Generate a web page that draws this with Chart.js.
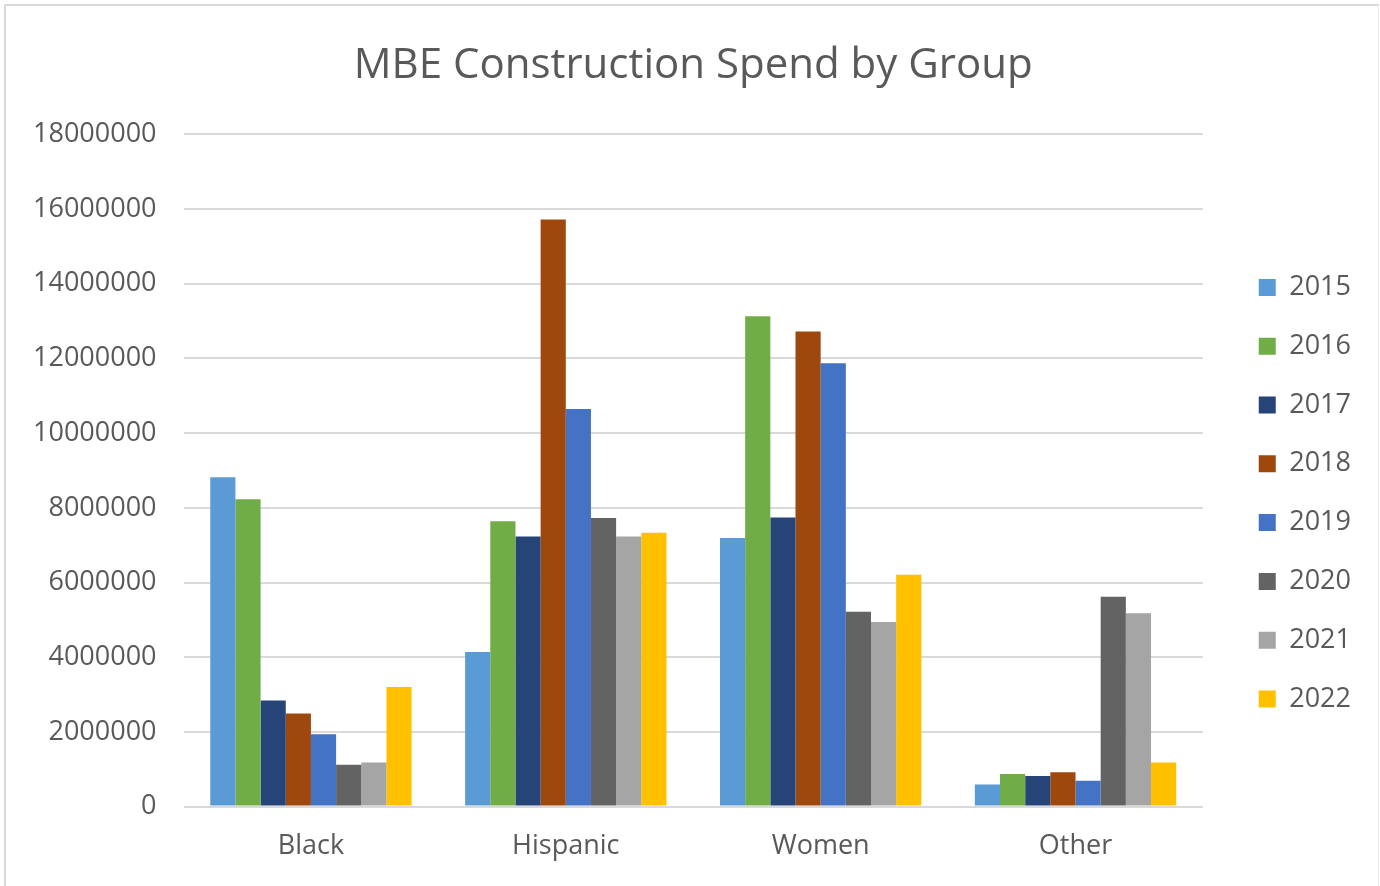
<!DOCTYPE html>
<html>
<head>
<meta charset="utf-8">
<title>MBE Construction Spend by Group</title>
<script src="https://cdn.jsdelivr.net/npm/chart.js@4.4.1/dist/chart.umd.min.js"></script>
<style>
  html, body { margin: 0; padding: 0; background: #fff; }
  #wrap { position: relative; width: 1380px; height: 886px; overflow: hidden; }
  #frame {
    position: absolute; left: 4px; top: 4px; right: 1px; bottom: -4px;
    border-left: 2px solid #d9d9d9; border-top: 2px solid #d9d9d9; border-right: 1px solid #ececec;
  }
  #chart { position: absolute; left: 0; top: 0; }
</style>
</head>
<body>
<div id="wrap">
  <div id="frame"></div>
  <canvas id="chart" width="1380" height="886"></canvas>
</div>
<script>
var groups = ['Black', 'Hispanic', 'Women', 'Other'];
var years = ['2015', '2016', '2017', '2018', '2019', '2020', '2021', '2022'];

// spend per year, in group order Black / Hispanic / Women / Other
var spend2015 = [8820000, 4140000, 7190000, 590000];
var spend2016 = [8230000, 7640000, 13130000, 870000];
var spend2017 = [2840000, 7230000, 7740000, 820000];
var spend2018 = [2490000, 15720000, 12720000, 920000];
var spend2019 = [1940000, 10650000, 11870000, 690000];
var spend2020 = [1120000, 7730000, 5220000, 5620000];
var spend2021 = [1180000, 7230000, 4940000, 5180000];
var spend2022 = [3200000, 7330000, 6210000, 1180000];

var yTicks = [0, 2000000, 4000000, 6000000, 8000000, 10000000, 12000000, 14000000, 16000000, 18000000];

var yearColors = ['#5b9bd5', '#70ad47', '#264478', '#9e480e', '#4472c4', '#636363', '#a5a5a5', '#ffc000'];
var allSpend = [spend2015, spend2016, spend2017, spend2018, spend2019, spend2020, spend2021, spend2022];

var textColor = '#595959';
var fontFamily = "'Open Sans', 'Liberation Sans', sans-serif";

var datasets = years.map(function (y, i) {
  return {
    label: y,
    data: allSpend[i],
    backgroundColor: yearColors[i],
    borderWidth: 0,
    categoryPercentage: 0.79,
    barPercentage: 1.0
  };
});

new Chart(document.getElementById('chart'), {
  type: 'bar',
  data: { labels: groups, datasets: datasets },
  options: {
    responsive: false,
    animation: false,
    devicePixelRatio: 1,
    layout: { padding: { left: 6, right: 19, top: 0, bottom: 0 } },
    plugins: {
      tooltip: { enabled: false },
      title: {
        display: true,
        fullSize: false,
        text: 'MBE Construction Spend by Group',
        color: textColor,
        font: { family: fontFamily, size: 42, weight: 'normal' },
        padding: { top: 41, bottom: 43 }
      },
      legend: {
        position: 'right',
        fullSize: false,
        // empty legend title only nudges the key down to sit where Excel put it
        title: { display: true, text: '', font: { size: 12 }, padding: { top: 31, bottom: 0 } },
        labels: {
          color: textColor,
          font: { family: fontFamily, size: 27 },
          boxWidth: 17,
          boxHeight: 17,
          padding: 31.8
        }
      }
    },
    scales: {
      x: {
        grid: { display: false, drawTicks: false },
        border: { display: false },
        ticks: { color: textColor, font: { family: fontFamily, size: 27 }, padding: 23.5 }
      },
      y: {
        min: 0,
        max: yTicks[yTicks.length - 1],
        afterBuildTicks: function (scale) {
          scale.ticks = yTicks.map(function (v) { return { value: v }; });
        },
        grid: { color: '#d9d9d9', lineWidth: 2, drawTicks: false },
        border: { display: false },
        ticks: {
          color: textColor,
          font: { family: fontFamily, size: 27 },
          padding: 27,
          callback: function (v) { return String(v); }
        }
      },
      gap: {
        type: 'linear',
        position: 'right',
        grid: { display: false, drawTicks: false },
        border: { display: false },
        ticks: { display: false },
        afterFit: function (scale) { scale.width = 24; }
      }
    }
  }
});
</script>
</body>
</html>
